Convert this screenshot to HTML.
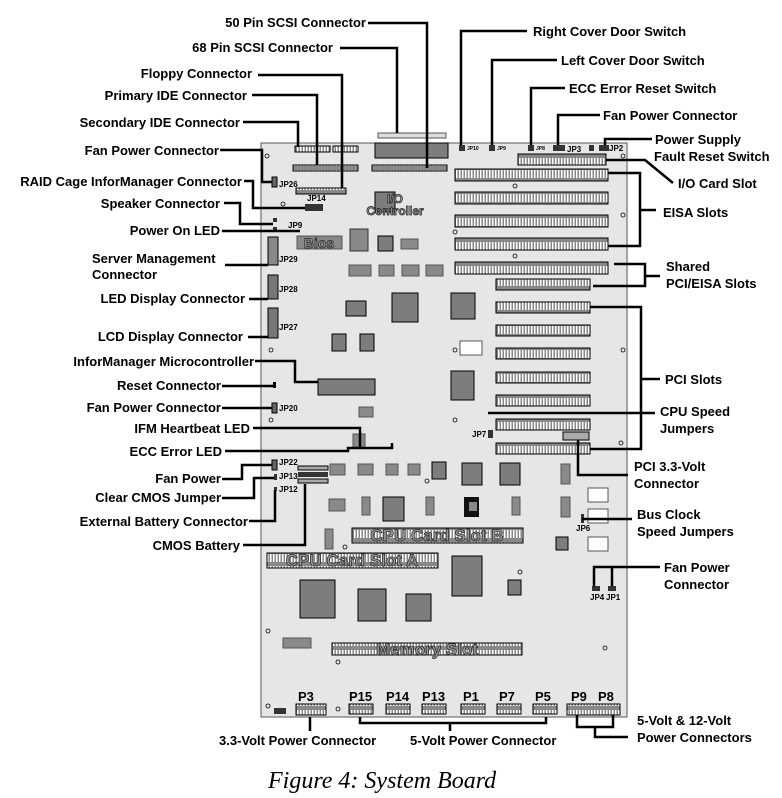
<!DOCTYPE html>
<html><head><meta charset="utf-8"><style>
html,body{margin:0;padding:0;background:#fff}
svg{display:block}
text{font-family:"Liberation Sans",Arial,sans-serif;font-weight:bold;font-size:13px;fill:#000}
.r{text-anchor:end}
.ln{stroke:#000;stroke-width:2.5;fill:none}
.sl{fill:#8a8a8a;stroke:#000;stroke-width:1}
.ch{fill:#7d7d7d;stroke:#000;stroke-width:1}
.bl{fill:#8a8a8a;stroke:#555;stroke-width:1}
.jp{font-size:8px}
.ol{font-size:17px;fill:#9a9a9a;stroke:#222;stroke-width:0.7}
.hole{fill:none;stroke:#000;stroke-width:0.8}
</style></head><body>
<svg width="782" height="798" viewBox="0 0 782 798">
<defs>
<pattern id="pins" width="3" height="12" patternUnits="userSpaceOnUse">
<rect width="3" height="12" fill="#888"/><rect x="0" y="2" width="1.5" height="8" fill="#fff"/>
</pattern>
</defs>
<rect x="261" y="143" width="366" height="574" fill="#e6e6e6" stroke="#555" stroke-width="1"/>

<rect x="378" y="133" width="68" height="5" fill="#ddd" stroke="#555"/>
<rect x="375" y="143" width="73" height="15" class="ch"/>
<rect x="295" y="146" width="35" height="6" fill="url(#pins)" stroke="#000"/>
<rect x="333" y="146" width="25" height="6" fill="url(#pins)" stroke="#000"/>
<rect x="293" y="165" width="65" height="6" fill="url(#pins)" stroke="#000"/>
<rect x="372" y="165" width="75" height="6" fill="url(#pins)" stroke="#000"/>
<rect x="296" y="188" width="50" height="6" fill="url(#pins)" stroke="#000"/>
<rect x="459" y="145" width="6" height="6" fill="#333"/><text x="467" y="150" class="jp" style="font-size:5px">JP10</text>
<rect x="489" y="145" width="6" height="6" fill="#333"/><text x="497" y="150" class="jp" style="font-size:5px">JP9</text>
<rect x="528" y="145" width="6" height="6" fill="#333"/><text x="536" y="150" class="jp" style="font-size:5px">JP8</text>
<rect x="553" y="145" width="12" height="6" fill="#333"/><text x="567" y="152" class="jp">JP3</text>
<rect x="589" y="145" width="5" height="6" fill="#333"/>
<rect x="599" y="145" width="10" height="6" fill="#333"/><text x="609" y="151" class="jp">JP2</text>

<rect x="518" y="154" width="88" height="11" fill="url(#pins)" stroke="#000"/>
<rect x="455" y="169" width="153" height="12" fill="url(#pins)" stroke="#000"/>
<rect x="455" y="192" width="153" height="12" fill="url(#pins)" stroke="#000"/>
<rect x="455" y="215" width="153" height="12" fill="url(#pins)" stroke="#000"/>
<rect x="455" y="238" width="153" height="12" fill="url(#pins)" stroke="#000"/>
<rect x="455" y="262" width="153" height="12" fill="url(#pins)" stroke="#000"/>
<rect x="496" y="279" width="94" height="11" fill="url(#pins)" stroke="#000"/>
<rect x="496" y="302" width="94" height="11" fill="url(#pins)" stroke="#000"/>
<rect x="496" y="325" width="94" height="11" fill="url(#pins)" stroke="#000"/>
<rect x="496" y="348" width="94" height="11" fill="url(#pins)" stroke="#000"/>
<rect x="496" y="372" width="94" height="11" fill="url(#pins)" stroke="#000"/>
<rect x="496" y="395" width="94" height="11" fill="url(#pins)" stroke="#000"/>
<rect x="496" y="419" width="94" height="11" fill="url(#pins)" stroke="#000"/>
<rect x="496" y="443" width="94" height="11" fill="url(#pins)" stroke="#000"/>
<rect x="563" y="432" width="26" height="8" fill="#aaa" stroke="#000"/>
<rect x="488" y="430" width="5" height="8" fill="#333"/><text x="472" y="437" class="jp">JP7</text>

<rect x="272" y="177" width="5" height="10" fill="#666" stroke="#000"/><text x="279" y="187" class="jp">JP26</text>
<rect x="305" y="204" width="18" height="7" fill="#333"/><text x="307" y="201" class="jp">JP14</text>
<rect x="273" y="218" width="4" height="4" fill="#333"/><rect x="273" y="227" width="4" height="4" fill="#333"/>
<text x="288" y="228" class="jp">JP9</text>
<rect x="268" y="237" width="10" height="28" fill="#888" stroke="#000"/><text x="279" y="262" class="jp">JP29</text>
<rect x="268" y="275" width="10" height="24" fill="#777" stroke="#000"/><text x="279" y="292" class="jp">JP28</text>
<rect x="268" y="308" width="10" height="30" fill="#777" stroke="#000"/><text x="279" y="330" class="jp">JP27</text>
<rect x="273" y="382" width="3" height="6" fill="#000"/>
<rect x="272" y="403" width="5" height="10" fill="#666" stroke="#000"/><text x="279" y="411" class="jp">JP20</text>
<rect x="272" y="460" width="5" height="10" fill="#666" stroke="#000"/><text x="279" y="465" class="jp">JP22</text>
<rect x="274" y="474" width="3" height="6" fill="#333"/><text x="279" y="479" class="jp">JP13</text>
<rect x="274" y="487" width="3" height="4" fill="#333"/><text x="279" y="492" class="jp">JP12</text>
<rect x="298" y="466" width="30" height="4" fill="#aaa" stroke="#000"/>
<rect x="298" y="472" width="30" height="5" fill="#333"/>
<rect x="298" y="479" width="30" height="4" fill="#aaa" stroke="#000"/>

<rect x="375" y="192" width="20" height="20" class="ch"/>
<text x="395" y="203" class="ol" text-anchor="middle" style="font-size:12px">I/O</text>
<text x="395" y="215" class="ol" text-anchor="middle" style="font-size:12px">Controller</text>
<rect x="297" y="236" width="45" height="13" fill="#888" stroke="#555"/>
<text x="319" y="248" class="ol" text-anchor="middle" style="font-size:14px">Bios</text>
<rect x="350" y="229" width="18" height="22" class="ch" style="fill:#888;stroke:#333"/>
<rect x="378" y="236" width="15" height="15" class="ch"/>
<rect x="401" y="239" width="17" height="10" class="bl"/>
<rect x="349" y="265" width="22" height="11" class="bl"/><rect x="379" y="265" width="15" height="11" class="bl"/>
<rect x="402" y="265" width="17" height="11" class="bl"/><rect x="426" y="265" width="17" height="11" class="bl"/>
<rect x="346" y="301" width="20" height="15" class="ch"/>
<rect x="392" y="293" width="26" height="29" class="ch"/>
<rect x="451" y="293" width="24" height="26" class="ch"/>
<rect x="332" y="334" width="14" height="17" class="ch"/><rect x="360" y="334" width="14" height="17" class="ch"/>
<rect x="460" y="341" width="22" height="14" fill="#fff" stroke="#555"/>
<rect x="451" y="371" width="23" height="29" class="ch"/>
<rect x="318" y="379" width="57" height="16" class="ch"/>
<rect x="359" y="407" width="14" height="10" class="bl"/>
<rect x="353" y="434" width="12" height="14" class="bl"/>
<rect x="330" y="464" width="15" height="11" class="bl"/><rect x="358" y="464" width="15" height="11" class="bl"/>
<rect x="386" y="464" width="12" height="11" class="bl"/><rect x="408" y="464" width="12" height="11" class="bl"/>
<rect x="432" y="462" width="14" height="17" class="ch"/>
<rect x="462" y="463" width="20" height="22" class="ch"/>
<rect x="500" y="463" width="20" height="22" class="ch"/>
<rect x="561" y="464" width="9" height="20" class="bl"/>
<rect x="329" y="499" width="16" height="12" class="bl"/>
<rect x="362" y="497" width="8" height="18" class="bl"/>
<rect x="383" y="497" width="21" height="24" class="ch"/>
<rect x="426" y="497" width="8" height="18" class="bl"/>
<rect x="464" y="497" width="15" height="20" fill="#111"/><rect x="469" y="502" width="8" height="9" fill="#888"/>
<rect x="512" y="497" width="8" height="18" class="bl"/>
<rect x="561" y="497" width="9" height="20" class="bl"/>
<rect x="588" y="488" width="20" height="14" fill="#fff" stroke="#555"/>
<rect x="588" y="509" width="20" height="14" fill="#fff" stroke="#555"/>
<rect x="588" y="537" width="20" height="14" fill="#fff" stroke="#555"/>
<rect x="581" y="514" width="3" height="9" fill="#333"/><text x="576" y="531" class="jp">JP6</text>
<rect x="325" y="529" width="8" height="20" class="bl"/>
<rect x="556" y="537" width="12" height="13" class="ch"/>

<rect x="352" y="528" width="171" height="15" fill="url(#pins)" stroke="#000"/>
<text x="437" y="541" class="ol" text-anchor="middle">CPU Card Slot B</text>
<rect x="267" y="553" width="171" height="15" fill="url(#pins)" stroke="#000"/>
<text x="352" y="566" class="ol" text-anchor="middle">CPU Card Slot A</text>
<rect x="452" y="556" width="30" height="40" class="ch"/>
<rect x="508" y="580" width="13" height="15" class="ch"/>
<rect x="300" y="580" width="35" height="38" class="ch"/>
<rect x="358" y="589" width="28" height="32" class="ch"/>
<rect x="406" y="594" width="25" height="27" class="ch"/>
<rect x="283" y="638" width="28" height="10" class="bl"/>
<rect x="332" y="643" width="190" height="12" fill="url(#pins)" stroke="#000"/>
<text x="427" y="655" class="ol" text-anchor="middle">Memory Slot</text>
<rect x="592" y="586" width="8" height="5" fill="#333"/><rect x="608" y="586" width="8" height="5" fill="#333"/>
<text x="590" y="600" class="jp">JP4</text><text x="606" y="600" class="jp">JP1</text>

<g style="font-size:15px">
<text x="298" y="701">P3</text><text x="349" y="701">P15</text><text x="386" y="701">P14</text>
<text x="422" y="701">P13</text><text x="463" y="701">P1</text><text x="499" y="701">P7</text>
<text x="535" y="701">P5</text><text x="571" y="701">P9</text><text x="598" y="701">P8</text>
</g>
<rect x="296" y="704" width="30" height="11" fill="url(#pins)" stroke="#000"/>
<rect x="349" y="704" width="24" height="10" fill="url(#pins)" stroke="#000"/>
<rect x="386" y="704" width="24" height="10" fill="url(#pins)" stroke="#000"/>
<rect x="422" y="704" width="24" height="10" fill="url(#pins)" stroke="#000"/>
<rect x="461" y="704" width="24" height="10" fill="url(#pins)" stroke="#000"/>
<rect x="497" y="704" width="24" height="10" fill="url(#pins)" stroke="#000"/>
<rect x="533" y="704" width="24" height="10" fill="url(#pins)" stroke="#000"/>
<rect x="567" y="704" width="53" height="11" fill="url(#pins)" stroke="#000"/>
<rect x="274" y="708" width="12" height="6" fill="#333"/>

<g class="hole">
<circle cx="267" cy="156" r="2"/><circle cx="283" cy="204" r="2"/><circle cx="455" cy="232" r="2"/>
<circle cx="515" cy="186" r="2"/><circle cx="515" cy="256" r="2"/><circle cx="623" cy="156" r="2"/>
<circle cx="623" cy="215" r="2"/><circle cx="623" cy="350" r="2"/><circle cx="271" cy="350" r="2"/>
<circle cx="271" cy="420" r="2"/><circle cx="455" cy="350" r="2"/><circle cx="455" cy="420" r="2"/>
<circle cx="621" cy="443" r="2"/><circle cx="427" cy="481" r="2"/><circle cx="345" cy="547" r="2"/>
<circle cx="520" cy="572" r="2"/><circle cx="268" cy="631" r="2"/><circle cx="338" cy="662" r="2"/>
<circle cx="605" cy="648" r="2"/><circle cx="268" cy="706" r="2"/><circle cx="338" cy="709" r="2"/>
</g>

<g class="ln">
<polyline points="368,23 427,23 427,168"/>
<polyline points="340,48 397,48 397,133"/>
<polyline points="258,75 342,75 342,188"/>
<polyline points="252,95 317,95 317,165"/>
<polyline points="243,122 298,122 298,147"/>
<polyline points="220,150 262,150 262,182 272,182"/>
<polyline points="244,181 253,181 253,208 305,208"/>
<polyline points="224,203 240,203 240,224 273,224"/>
<polyline points="222,231 300,231"/>
<polyline points="225,265 268,265"/>
<polyline points="249,299 268,299"/>
<polyline points="248,337 268,337"/>
<polyline points="255,361 295,361 295,382 318,382"/>
<polyline points="222,386 273,386"/>
<polyline points="222,408 272,408"/>
<polyline points="253,428 360,428 360,447"/>
<polyline points="225,451 348,451 348,448 392,448 392,443"/>
<polyline points="222,479 242,479 242,465 272,465"/>
<polyline points="222,498 254,498 254,478 274,478"/>
<polyline points="249,521 275,521 275,490"/>
<polyline points="243,545 305,545 305,484"/>
<polyline points="527,31 461,31 461,145"/>
<polyline points="557,60 492,60 492,145"/>
<polyline points="565,88 531,88 531,145"/>
<polyline points="600,115 558,115 558,145"/>
<polyline points="652,139 605,139 605,145"/>
<polyline points="606,160 645,160 673,183"/>
<polyline points="608,173 640,173 640,246 608,246"/>
<polyline points="640,210 656,210"/>
<polyline points="614,264 645,264 645,286 593,286"/>
<polyline points="645,276 660,276"/>
<polyline points="590,307 641,307 641,449 590,449"/>
<polyline points="641,379 660,379"/>
<polyline points="488,413 655,413"/>
<polyline points="578,440 578,475 628,475"/>
<polyline points="582,519 632,519"/>
<polyline points="594,586 594,567 660,567"/>
<polyline points="612,586 612,567"/>
<polyline points="577,715 577,727 613,727 613,715"/>
<polyline points="595,727 595,737 628,737"/>
<polyline points="310,717 310,731"/>
<polyline points="360,717 360,723 546,723 546,717"/>
<polyline points="450,723 450,731"/>
</g>

<text x="366" y="27" class="r">50 Pin SCSI Connector</text>
<text x="333" y="52" class="r">68 Pin SCSI Connector</text>
<text x="252" y="78" class="r">Floppy Connector</text>
<text x="247" y="100" class="r">Primary IDE Connector</text>
<text x="240" y="127" class="r">Secondary IDE Connector</text>
<text x="219" y="155" class="r">Fan Power Connector</text>
<text x="242" y="186" class="r">RAID Cage InforManager Connector</text>
<text x="220" y="208" class="r">Speaker Connector</text>
<text x="220" y="235" class="r">Power On LED</text>
<text x="92" y="263">Server Management</text>
<text x="92" y="279">Connector</text>
<text x="245" y="303" class="r">LED Display Connector</text>
<text x="243" y="341" class="r">LCD Display Connector</text>
<text x="254" y="366" class="r">InforManager Microcontroller</text>
<text x="221" y="390" class="r">Reset Connector</text>
<text x="221" y="412" class="r">Fan Power Connector</text>
<text x="250" y="433" class="r">IFM Heartbeat LED</text>
<text x="222" y="456" class="r">ECC Error LED</text>
<text x="221" y="483" class="r">Fan Power</text>
<text x="221" y="502" class="r">Clear CMOS Jumper</text>
<text x="248" y="526" class="r">External Battery Connector</text>
<text x="240" y="550" class="r">CMOS Battery</text>
<text x="533" y="36">Right Cover Door Switch</text>
<text x="561" y="65">Left Cover Door Switch</text>
<text x="569" y="93">ECC Error Reset Switch</text>
<text x="603" y="120">Fan Power Connector</text>
<text x="655" y="144">Power Supply</text>
<text x="654" y="161">Fault Reset Switch</text>
<text x="678" y="188">I/O Card Slot</text>
<text x="663" y="217">EISA Slots</text>
<text x="666" y="271">Shared</text>
<text x="666" y="288">PCI/EISA Slots</text>
<text x="665" y="384">PCI Slots</text>
<text x="660" y="416">CPU Speed</text>
<text x="660" y="433">Jumpers</text>
<text x="634" y="471">PCI 3.3-Volt</text>
<text x="634" y="488">Connector</text>
<text x="637" y="519">Bus Clock</text>
<text x="637" y="536">Speed Jumpers</text>
<text x="664" y="572">Fan Power</text>
<text x="664" y="589">Connector</text>
<text x="637" y="725">5-Volt  &amp; 12-Volt</text>
<text x="637" y="742">Power Connectors</text>
<text x="219" y="745">3.3-Volt Power Connector</text>
<text x="410" y="745">5-Volt Power Connector</text>
<text x="268" y="788" style="font-family:'Liberation Serif',serif;font-style:italic;font-weight:normal;font-size:24px">Figure 4:  System Board</text>
</svg>
</body></html>
